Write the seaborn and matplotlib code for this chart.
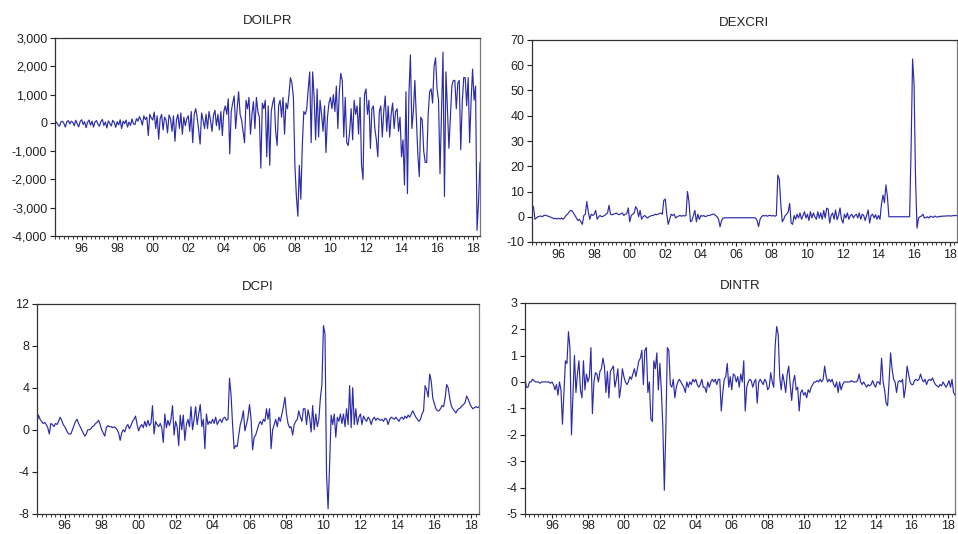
import numpy as np
import pandas as pd
import matplotlib
matplotlib.use("Agg")
import matplotlib.pyplot as plt
from matplotlib.ticker import FuncFormatter, MultipleLocator
import seaborn as sns

# Monthly samples, July 1994 through June 2018
START_YEAR = 1994.5

# Change in oil price (one row per year; first row Jul-Dec 1994, last row Jan-Jun 2018)
doilpr = [
    80, 20, -60, -120, 30, 60,
    -20, -150, 40, 80, -40, 60, 20, -100, 90, -30, -140, 50,
    110, -60, 40, -170, 20, 100, -80, 60, -150, 30, 80, -40,
    -120, 50, 120, -90, 30, -180, 70, -20, -110, 90, 20, -160,
    40, -70, 110, -200, 60, -30, 100, -150, 30, -90, 140, -40,
    -60, 150, 60, 220, 100, -80, 250, 120, 200, -450, 300, 180,
    100, 380, -200, 250, -580, 150, 300, -250, 200, 100, -350, 280,
    150, -300, 250, -650, 100, 300, -200, 350, -400, 200, -100, 150,
    250, -300, 400, -700, 300, 500, 200, -250, -750, 350, 100, -200,
    300, -200, 400, 100, -300, 250, 450, -100, 300, -250, 400, -450,
    400, 600, 300, 850, -1100, 400, 700, 950, -200, 500, 1100, 300,
    100, -300, -700, 800, 500, 900, -400, 300, 750, -200, 900, 400,
    200, -1600, 700, 500, 800, -1200, 600, -1500, 400, 700, 900, -300,
    -800, 600, 800, 200, 900, -400, 700, 500, 1000, 1600, 1400, 900,
    -1500, -2600, -3300, -1500, -2700, -800, 400, 300, 500, 1200, 1800, -700,
    1800, 900, -600, 1200, -500, 800, 300, -300, 600, -1050, 200, 700,
    900, 500, 1000, 400, 1300, -200, 1100, 1750, 1500, -500, 900, -700,
    -800, -300, 500, -600, 800, 300, 600, -400, 900, -1500, -2000, 1000,
    1200, 300, 800, -900, 500, 600, -200, -600, -1200, 400, 600, -500,
    400, 950, -300, 600, -500, 300, 700, -200, 400, 500, -300, 200,
    -1200, -600, -2200, 1100, -2500, 1000, 2400, -200, 400, 1500, 200, -1100,
    -1900, 200, 100, -1000, -1400, -1400, 300, 1100, 1200, 700, 2000, 2300,
    1200, 800, -1800, 400, 2500, -2600, 1800, 500, -900, 200, 1300, 1500,
    1500, 500, 1400, 1500, -950, 700, 1600, 1600, 600, 1600, -700, 800,
    1900, 800, 1300, -3800, -2800, -1400,
]

# Change in exchange rate
dexcri = [
    4.5, 4.0, -1.0, -0.5, 0.0, 0.2,
    0.3, 0.0, 0.5, 0.6, 0.4, 0.2, 0.0, -0.3, -0.5, -0.8, -0.6, -0.9,
    -0.6, -0.9, -0.5, -1.0, -0.3, 0.5, 1.0, 1.8, 2.5, 2.4, 1.5, 0.5,
    -0.5, -1.5, -1.0, -2.0, -3.0, 0.5, 1.0, 6.0, 2.0, -1.0, 1.0, 0.5,
    1.0, 2.5, -1.0, 0.0, 0.5, 0.0, 0.2, 0.5, 1.0, 1.5, 4.5, 1.0,
    0.8, 1.0, 1.2, 1.5, 1.0, 0.8, 1.2, 1.5, 0.5, 1.0, 1.2, 3.5,
    -2.0, 0.5, 1.0, 1.5, 4.0, 3.0, 0.0, 2.5, -1.0, 0.0, 0.5, 0.0,
    -0.5, 0.0, 0.3, 0.5, 0.5, 1.0, 0.8, 1.0, 1.2, 1.5, 1.0, 6.5,
    7.0, 1.0, -3.0, -1.0, 1.0, 0.5, 1.0, -0.5, 0.0, 0.3, 0.5, 0.2,
    0.5, 0.3, 0.5, 10.0, 6.0, -2.0, -1.5, 0.5, 2.5, -2.0, 1.0, -1.0,
    0.5, 0.2, 0.5, 0.0, 0.3, 0.5, 0.5, 0.8, 1.0, 1.0, 0.5, 0.0,
    -1.0, -4.0, -1.5, -0.5, -0.5, -0.4, -0.4, -0.4, -0.4, -0.4, -0.4, -0.4,
    -0.4, -0.4, -0.4, -0.4, -0.4, -0.4, -0.4, -0.4, -0.4, -0.4, -0.4, -0.4,
    -0.4, -0.5, -1.5, -3.9, -1.0, 0.0, 0.5, 0.3, 0.5, 0.2, 0.5, 0.5,
    0.3, 0.5, 0.2, 0.5, 16.5, 15.0, 5.0, -2.0, -1.0, 0.5, 1.0, 2.0,
    5.3, -2.5, -3.0, 0.5, -1.0, 1.0, -0.5, 1.5, -1.0, 0.5, 2.0, -0.5,
    1.0, -1.5, 2.0, -0.5, 1.5, 0.0, -1.0, 2.0, -0.5, 1.5, -1.0, 2.5,
    -0.5, 3.4, 3.0, -2.5, 0.5, 1.5, -1.0, 2.7, -1.2, 0.5, 3.5, -1.0,
    -2.5, 1.0, -0.5, 1.5, -1.0, 0.5, 1.0, -0.5, 0.5, 1.0, -0.5, 1.5,
    -1.0, 1.0, 0.5, -1.5, 0.5, 2.7, -2.5, 0.5, 1.0, -0.5, 0.8, -1.0,
    0.5, -1.0, 5.0, 8.6, 5.5, 12.6, 8.0, 0.0, 0.0, 0.0, 0.0, 0.0,
    0.0, 0.0, 0.0, 0.0, 0.0, 0.0, 0.0, 0.0, 0.0, 0.0, 27.0, 62.5,
    52.6, 15.0, -4.5, -0.5, 0.0, 0.3, 1.0, -0.5, -0.3, 0.0, -0.5, 0.2,
    0.0, -0.3, 0.3, 0.0, -0.2, 0.2, 0.0, 0.3, 0.2, 0.3, 0.3, 0.4,
    0.3, 0.3, 0.4, 0.5, 0.4, 0.5,
]

# Change in consumer prices
dcpi = [
    0.7, 1.4, 1.0, 0.8, 0.6, 0.7,
    0.5, 0.2, -0.4, 0.6, 0.5, 0.3, 0.6, 0.5, 0.8, 1.2, 0.9, 0.5,
    0.3, 0.0, -0.3, -0.4, -0.4, 0.0, 0.4, 0.8, 1.0, 0.6, 0.3, 0.0,
    -0.3, -0.6, -0.4, 0.0, 0.0, 0.1, 0.3, 0.4, 0.6, 0.7, 0.9, 0.5,
    0.0, -0.3, -0.6, 0.2, 0.4, 0.3, 0.3, 0.2, 0.3, 0.2, 0.0, -0.3,
    -1.0, -0.3, 0.0, -0.2, 0.3, 0.5, 0.1, 0.4, 0.8, 1.0, 1.3, 0.5,
    -0.1, 0.3, 0.5, 0.2, 0.8, 0.3, 0.9, 0.4, 0.6, 2.3, -0.4, 0.8,
    0.5, 0.3, 0.6, 0.2, -1.2, 1.5, 0.2, 0.9, 0.4, 1.0, 2.3, -0.5,
    0.8, 0.3, -1.5, 1.4, 0.0, 1.4, -1.0, 0.5, 1.0, 0.3, 2.2, 0.0,
    1.0, 2.2, 0.5, 1.5, 2.4, 0.3, 1.0, -1.8, 1.5, 0.5, 0.8, 0.6,
    1.0, 0.6, 1.2, 0.5, 0.8, 1.0, 0.7, 1.1, 1.2, 0.9, 1.0, 4.9,
    3.3, 0.5, -1.8, -1.5, -1.6, -0.5, 0.5, 1.0, 1.8, -0.1, 0.5, 1.2,
    2.4, 1.0, -1.9, -0.7, -0.5, 0.0, 0.5, 0.8, 0.5, 1.0, 0.8, 2.0,
    1.0, 2.0, -1.8, 0.0, 0.5, 1.0, 0.3, 1.2, 0.8, 1.5, 2.2, 3.1,
    1.5, 0.6, 0.2, 0.3, -0.5, 0.5, 0.8, 1.0, 1.8, 1.2, 0.8, 2.0,
    2.0, 0.5, 1.9, 1.2, -0.2, 2.3, 0.0, 1.5, 0.3, 1.0, 3.0, 4.3,
    9.9, 9.1, -4.2, -7.5, -3.3, 1.4, 0.5, 1.5, -0.7, 1.2, 0.8, 1.5,
    0.6, 1.5, 0.3, 2.0, 0.5, 4.2, 0.2, 4.0, 0.5, 2.0, 0.5, 1.2,
    1.5, 0.5, 1.3, 1.0, 0.8, 1.2, 1.0, 0.5, 1.0, 1.2, 0.9, 1.1,
    1.0, 0.9, 1.0, 0.8, 1.1, 1.0, 0.5, 1.0, 1.2, 1.1, 1.0, 1.2,
    1.0, 0.8, 1.1, 1.2, 1.0, 1.3, 1.1, 1.4, 1.2, 1.5, 1.8, 1.5,
    1.2, 1.0, 0.8, 1.0, 1.5, 1.8, 4.2, 3.8, 3.1, 5.3, 4.6, 3.0,
    2.5, 2.0, 1.8, 1.8, 2.0, 2.3, 2.2, 3.0, 4.3, 4.0, 3.0, 2.3,
    2.0, 1.8, 1.6, 1.9, 2.0, 2.1, 2.3, 2.4, 2.6, 3.2, 2.9, 2.5,
    2.2, 2.0, 2.1, 2.2, 2.1, 2.2,
]

# Change in interest rate
dintr = [
    0.1, -0.2, -0.2, 0.0, 0.0, 0.1,
    0.05, 0.0, 0.0, 0.0, -0.05, 0.0, 0.0, 0.0, 0.0, 0.0, 0.0, -0.05,
    0.0, -0.1, -0.3, -0.1, -0.5, 0.0, -0.3, -1.6, -0.4, 0.8, 0.7, 1.9,
    1.3, -2.0, -0.5, 1.0, -0.4, 0.3, 0.8, -0.3, -0.6, 0.8, -0.3, 0.3,
    0.0, 0.2, 1.3, -1.2, 0.0, 0.35, 0.3, 0.0, 0.4, 0.5, 0.9, 0.6,
    -0.4, 0.4, -0.6, 0.4, 0.5, 0.6, -0.2, 0.1, 0.5, -0.6, -0.2, 0.5,
    0.2, 0.0, -0.1, 0.0, 0.2, 0.1, 0.3, 0.5, 0.2, 0.5, 0.8, 0.9,
    1.2, -0.1, 1.2, 1.3, -0.4, 0.0, -1.4, -1.5, 0.8, 0.5, 1.1, -0.3,
    0.7, -0.3, -1.7, -4.1, -1.8, 1.3, 1.2, -0.1, -0.2, 0.1, -0.6, -0.2,
    0.0, 0.1, 0.0, -0.1, -0.2, -0.4, 0.0, -0.2, 0.0, -0.1, 0.1, 0.0,
    0.1, -0.1, -0.2, -0.1, 0.1, -0.2, -0.2, -0.4, 0.0, -0.2, 0.0, 0.1,
    0.0, 0.1, -0.1, 0.1, 0.1, -1.1, -0.4, 0.1, 0.2, 0.7, -0.2, 0.2,
    -0.3, 0.3, 0.25, 0.0, 0.2, -0.2, 0.3, 0.0, 0.8, -1.1, -0.2, 0.0,
    0.1, 0.05, -0.2, 0.0, 0.1, -0.8, 0.0, 0.1, 0.0, -0.1, 0.1, 0.0,
    -0.3, -0.2, 0.35, 0.0, -0.2, 1.4, 2.1, 1.8, 0.2, -0.3, 0.3, 0.0,
    -0.4, 0.3, 0.6, -0.1, -0.7, 0.0, 0.25, -0.3, -0.2, -1.1, -0.4, -0.3,
    -0.5, -0.4, -0.6, -0.3, -0.4, -0.2, -0.1, 0.0, 0.0, 0.05, 0.0, 0.1,
    0.0, 0.1, 0.6, 0.2, 0.0, 0.1, 0.0, 0.1, -0.1, -0.2, 0.0, -0.4,
    0.0, -0.3, -0.1, 0.0, 0.0, 0.0, 0.0, 0.0, 0.05, 0.0, 0.0, 0.0,
    0.05, 0.3, 0.0, -0.1, 0.0, -0.1, -0.2, -0.1, -0.15, -0.1, 0.05, -0.1,
    -0.2, 0.0, 0.0, -0.1, 0.9, 0.0, -0.3, -0.8, -0.9, 0.0, 1.1, 0.5,
    0.1, 0.0, -0.4, 0.0, 0.05, 0.0, 0.1, -0.6, -0.2, 0.6, 0.3, 0.0,
    -0.1, -0.1, 0.05, 0.1, 0.05, 0.1, 0.3, 0.1, 0.0, 0.1, -0.1, 0.05,
    0.1, 0.05, 0.15, 0.0, -0.1, -0.15, -0.2, -0.1, -0.15, 0.0, -0.1, -0.2,
    -0.1, 0.05, -0.2, 0.1, -0.4, -0.5,
]

titles = ["DOILPR", "DEXCRI", "DCPI", "DINTR"]
series = [doilpr, dexcri, dcpi, dintr]
year_ticks = list(range(1996, 2019, 2))
year_labels = [f"{y % 100:02d}" for y in year_ticks]

sns.set_style("white")
plt.rcParams["font.family"] = ["Liberation Sans", "DejaVu Sans"]
plt.rcParams["axes.unicode_minus"] = False

LINE_COLOR = "#2c2ca8"

fig = plt.figure(figsize=(9.58, 5.34), dpi=100)

# panel rectangles in figure pixels: left, top, right, bottom
W, H = 958, 534
rects = [
    (55, 38, 480, 236),
    (532, 40, 957, 242),
    (37, 303.5, 479, 514),
    (525, 302.7, 955, 514),
]
y_settings = [
    (-4000, 3000, 1000),
    (-10, 70, 10),
    (-8, 12, 4),
    (-5, 3, 1),
]


def thousands(v, _pos):
    return f"{int(round(v)):,}"


for i, (name, vals, (l, t, r, b), (ymin, ymax, ystep)) in enumerate(
        zip(titles, series, rects, y_settings)):
    ax = fig.add_axes([l / W, 1 - b / H, (r - l) / W, (b - t) / H])
    n = len(vals)
    years = START_YEAR + np.arange(n) / 12.0
    df = pd.DataFrame({"year": years, "value": vals})
    sns.lineplot(data=df, x="year", y="value", ax=ax, color=LINE_COLOR,
                 linewidth=0.85, estimator=None, sort=False)
    ax.set_xlim(years[0], years[-1])
    ax.set_ylim(ymin, ymax)
    ax.set_yticks(np.arange(ymin, ymax + ystep / 2, ystep))
    if name == "DOILPR":
        ax.yaxis.set_major_formatter(FuncFormatter(thousands))
    else:
        ax.yaxis.set_major_formatter(FuncFormatter(lambda v, _p: f"{int(round(v))}"))
    ax.set_xticks(year_ticks)
    ax.set_xticklabels(year_labels)
    ax.xaxis.set_minor_locator(MultipleLocator(0.25))
    ax.set_xlabel("")
    ax.set_ylabel("")
    ax.set_title(name, fontsize=9.5, pad=10, color="#222222")
    ax.tick_params(axis="y", which="major", direction="out", length=3.5, left=True,
                   width=0.8, labelsize=9, colors="#222222", pad=2)
    ax.tick_params(axis="x", which="major", direction="out", length=3, bottom=True,
                   width=0.8, labelsize=9, colors="#222222", pad=1 if i >= 2 else 2)
    ax.tick_params(axis="x", which="minor", direction="out", length=2.2, width=0.6,
                   bottom=True, colors="#222222")
    for side, sp in ax.spines.items():
        sp.set_visible(True)
        sp.set_linewidth(0.9)
        sp.set_color("#333333" if side in ("left", "bottom", "top") else "#777777")

fig.savefig("out.png", dpi=100, facecolor="white")
